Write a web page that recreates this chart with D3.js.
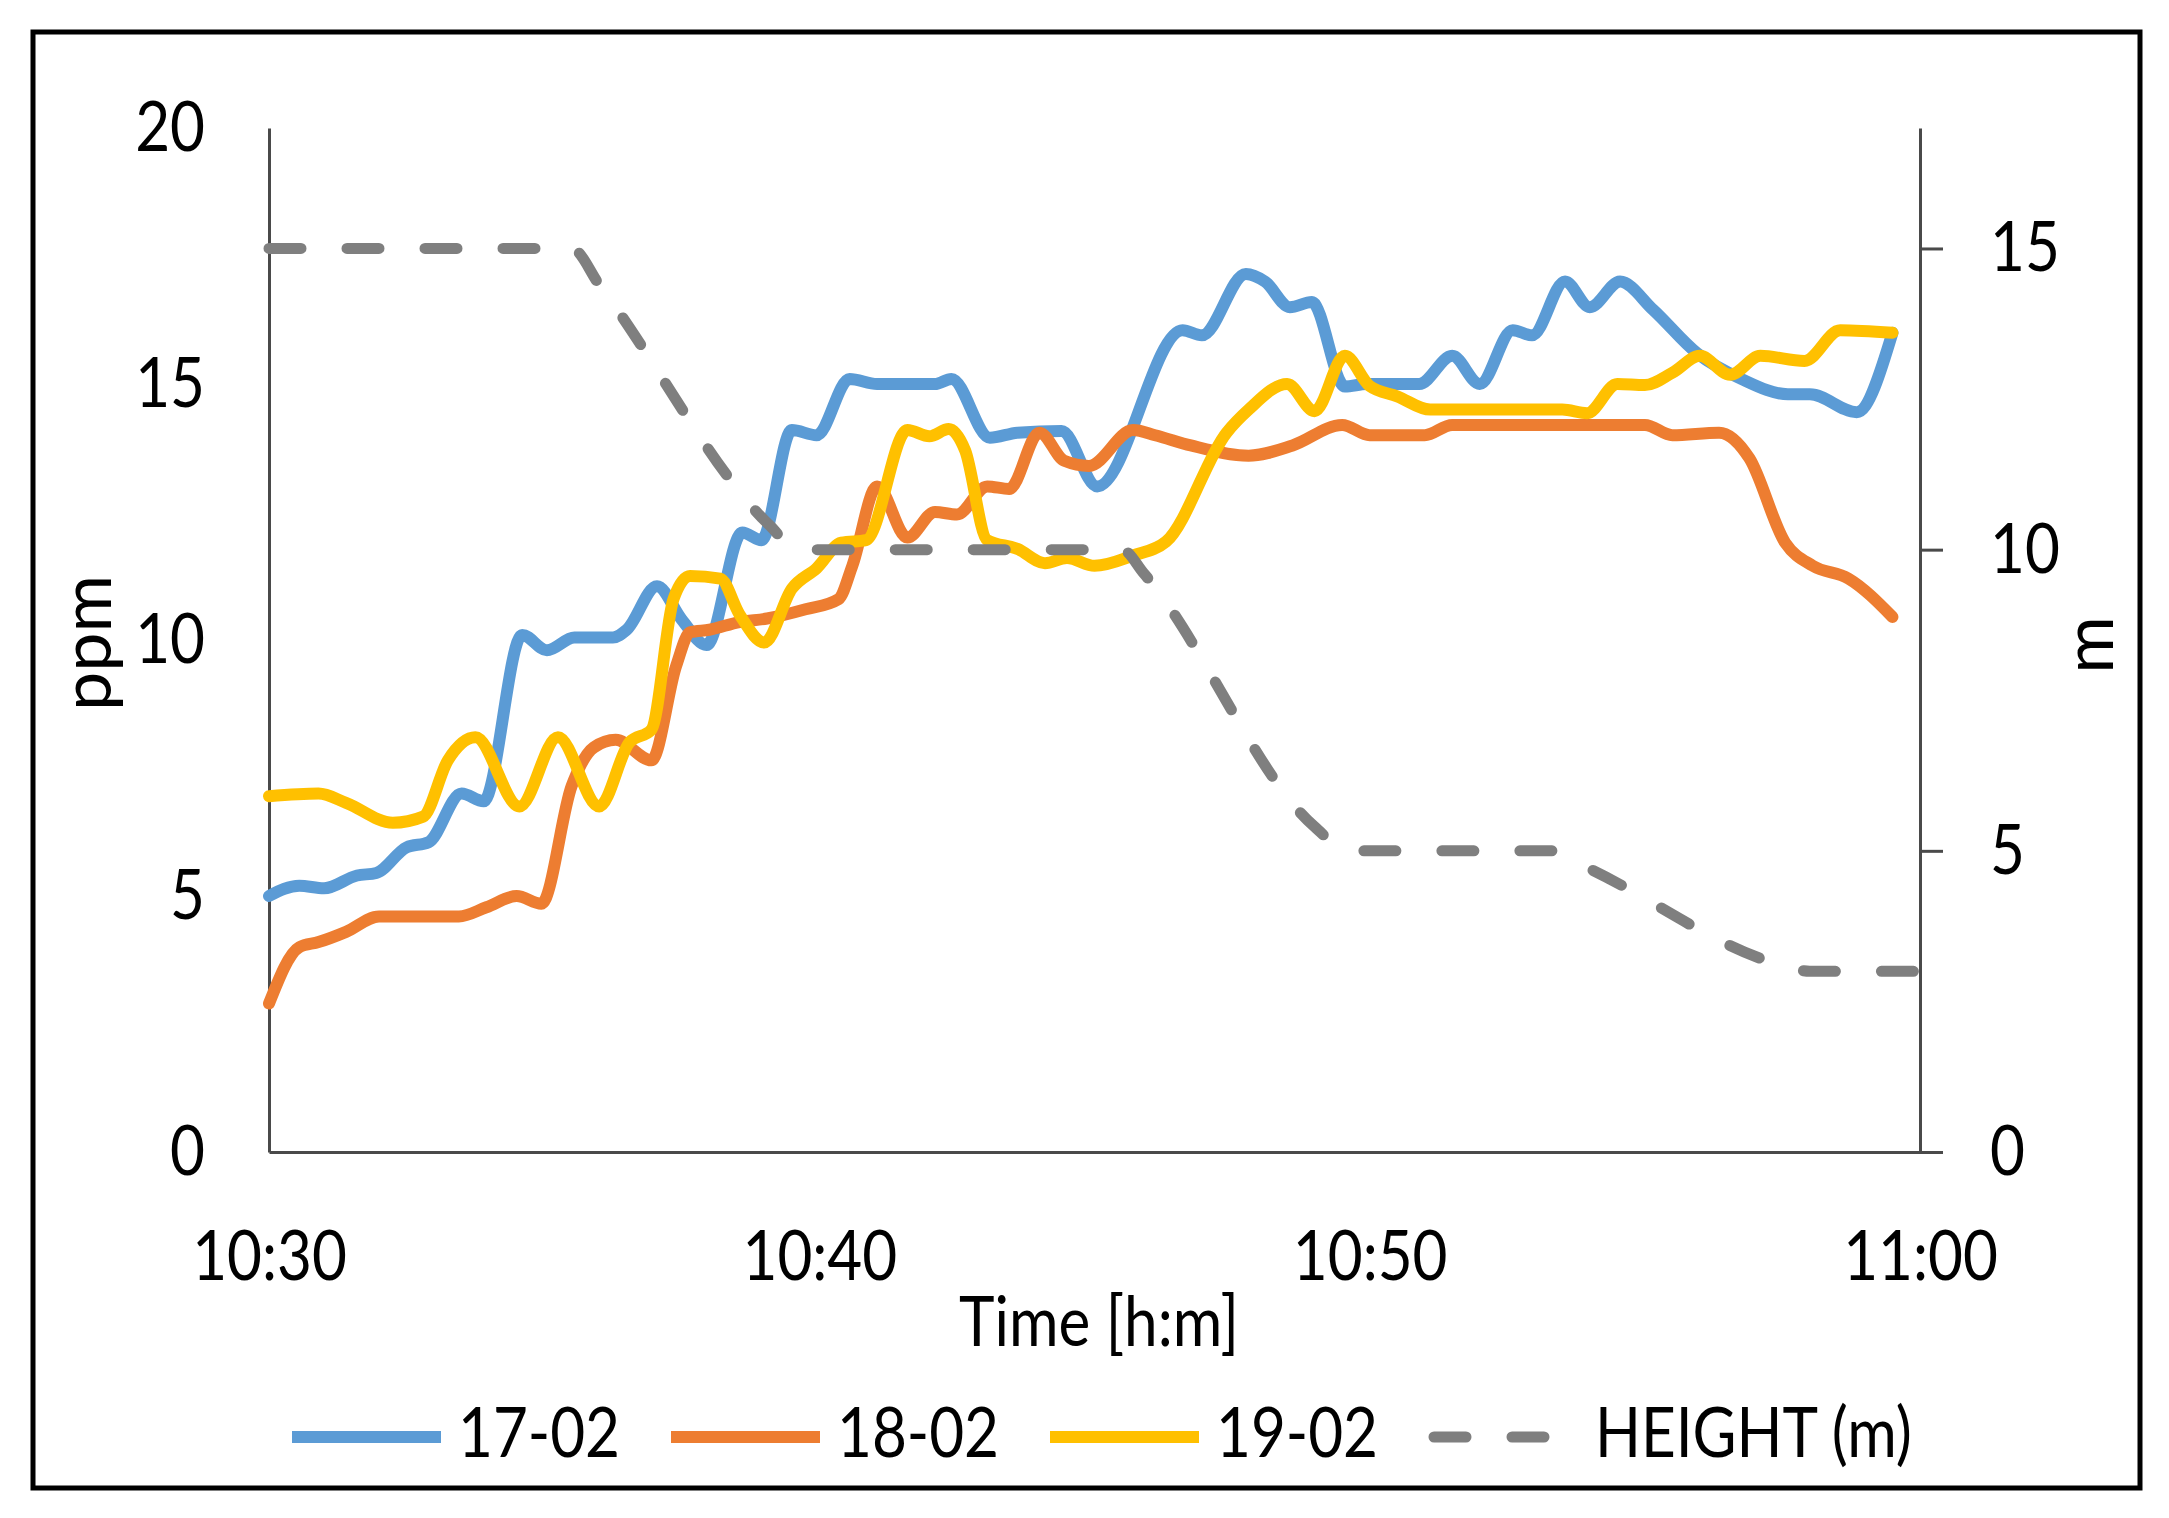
<!DOCTYPE html>
<html>
<head>
<meta charset="utf-8">
<script src="https://d3js.org/d3.v7.min.js"></script>
<style>
  body { margin: 0; background: #fff; }
  text { font-family: Lato, 'Open Sans', sans-serif; fill: #000; }
</style>
</head>
<body>
<div id="app"></div>
<script>
// Values: [minutes after 10:30, value]
const SERIES_17 = [[0,5.0],[0.55,5.2],[1.0,5.15],[1.6,5.4],[1.95,5.45],[2.5,5.95],[2.9,6.05],[3.5,7.0],[3.9,6.85],
  [4.6,10.1],[5.05,9.8],[5.55,10.05],[6.25,10.05],[6.5,10.2],[7.05,11.05],[7.5,10.4],[7.95,9.9],[8.6,12.1],
  [8.95,11.95],[9.5,14.1],[9.95,14.0],[10.55,15.1],[11.05,15.0],[12.1,15.0],[12.4,15.1],[13.1,13.95],[13.6,14.05],
  [14.4,14.08],[15.05,13.0],[16.6,16.05],[16.95,15.95],[17.75,17.15],[18.1,17.0],[18.55,16.5],[18.95,16.6],
  [19.55,14.95],[19.95,15.0],[20.9,15.0],[21.5,15.55],[22.0,15.0],[22.6,16.05],[22.95,15.95],[23.55,17.0],
  [24.0,16.5],[24.55,17.0],[25.15,16.45],[25.95,15.6],[26.75,15.1],[27.6,14.8],[28.0,14.8],[28.85,14.45],[29.5,16.0]];

const SERIES_18 = [[0,2.9],[0.55,4.0],[0.9,4.1],[1.4,4.3],[2.0,4.6],[3.45,4.6],[3.95,4.78],[4.5,5.0],[4.95,4.85],
  [5.5,7.15],[5.9,7.9],[6.3,8.05],[6.95,7.65],[7.4,9.5],[7.65,10.15],[8.0,10.2],[8.55,10.35],[9.05,10.42],
  [9.75,10.6],[10.35,10.8],[10.6,11.45],[11.05,13.0],[11.6,12.0],[12.1,12.5],[12.5,12.45],[13.05,13.0],
  [13.45,12.95],[14.0,14.05],[14.45,13.5],[14.9,13.4],[15.7,14.1],[16.1,14.0],[16.75,13.8],[17.8,13.6],
  [18.6,13.8],[19.5,14.2],[20.0,14.0],[21.0,14.0],[21.5,14.2],[25.0,14.2],[25.5,14.0],[26.35,14.05],
  [26.9,13.55],[27.55,11.9],[28.05,11.45],[28.7,11.2],[29.5,10.45]];

const SERIES_19 = [[0,6.95],[0.9,7.0],[1.4,6.82],[2.25,6.43],[2.8,6.55],[3.25,7.65],[3.75,8.1],[4.55,6.75],
  [5.25,8.1],[6.0,6.75],[6.55,8.0],[6.95,8.25],[7.35,10.8],[7.65,11.25],[8.2,11.2],[8.55,10.5],[9.0,9.95],
  [9.5,11.0],[9.95,11.4],[10.4,11.9],[10.85,11.95],[11.6,14.1],[12.0,13.98],[12.35,14.12],[12.65,13.7],
  [13.05,11.95],[13.6,11.78],[14.1,11.5],[14.5,11.6],[15.0,11.45],[15.7,11.65],[16.3,11.92],[17.4,14.05],
  [17.8,14.5],[18.5,15.0],[19.0,14.47],[19.55,15.55],[20.0,14.96],[20.5,14.76],[21.1,14.5],[23.5,14.5],
  [23.95,14.43],[24.5,15.0],[25.0,14.98],[25.5,15.22],[26.0,15.55],[26.55,15.18],[27.1,15.55],[27.9,15.45],
  [28.55,16.05],[29.5,16.0]];

const HEIGHT_M = [[0,15],[5.5,15],[6.0,14.4],[9.1,10.4],[9.6,10],[15.5,10],[15.9,9.6],[19.0,5.4],[19.6,5],
  [23.3,5],[24.0,4.7],[27.5,3.1],[28.0,3],[30,3]];

const SERIES_NAMES = ['17-02', '18-02', '19-02', 'HEIGHT (m)'];
const LEFT_TICKS = [0, 5, 10, 15, 20];
const RIGHT_TICKS = [0, 5, 10, 15];
const TIME_TICKS = [0, 10, 20, 30];   // minutes after 10:30

const COLORS = ['#5B9BD5', '#ED7D31', '#FFC000', '#7F7F7F'];
const BASE = new Date(2020, 1, 17, 10, 30);
const toDate = (m) => new Date(BASE.getTime() + m * 60000);

const W = 2169, H = 1518;
const plot = {left: 269, right: 1920, top: 128, bottom: 1152};
const FONT = 70;
const AXIS_COLOR = '#4a4a4a';

const svg = d3.select('#app').append('svg')
  .attr('width', W)
  .attr('height', H);

// white background with the black frame round it
svg.append('rect').attr('width', W).attr('height', H).style('fill', '#fff');
svg.append('rect')
  .attr('x', 33).attr('y', 32)
  .attr('width', 2107).attr('height', 1456)
  .style('fill', 'none')
  .style('stroke', '#000')
  .style('stroke-width', 5);

// scales
const x = d3.scaleTime().domain([toDate(0), toDate(30)]).range([plot.left, plot.right]);
const yLeft = d3.scaleLinear().domain([0, 20]).range([plot.bottom, plot.top]);
const yRight = d3.scaleLinear().domain([0, 17]).range([plot.bottom, plot.top]);

function styleAxis(g) {
  g.select('.domain').style('stroke', AXIS_COLOR).style('stroke-width', 3);
  g.selectAll('.tick line').style('stroke', AXIS_COLOR).style('stroke-width', 3);
  g.selectAll('text')
    .style('font-family', 'Lato, sans-serif')
    .style('font-size', FONT + 'px')
    .style('fill', '#000');
}

// left axis (ppm)
const leftAxis = svg.append('g')
  .attr('transform', `translate(${plot.left},0)`)
  .call(d3.axisLeft(yLeft).tickValues(LEFT_TICKS).tickSize(0).tickPadding(64))
  .call(styleAxis);
leftAxis.attr('font-family', null).attr('font-size', null);

// right axis (m)
const rightAxis = svg.append('g')
  .attr('transform', `translate(${plot.right},0)`)
  .call(d3.axisRight(yRight).tickValues(RIGHT_TICKS).tickSizeInner(23).tickSizeOuter(0).tickPadding(47))
  .call(styleAxis);
rightAxis.attr('font-family', null).attr('font-size', null);

// bottom axis (time)
const bottomAxis = svg.append('g')
  .attr('transform', `translate(0,${plot.bottom})`)
  .call(d3.axisBottom(x).tickValues(TIME_TICKS.map(toDate)).tickSize(0).tickFormat(d3.timeFormat('%H:%M')))
  .call(styleAxis);
bottomAxis.attr('font-family', null).attr('font-size', null);
bottomAxis.selectAll('text').attr('dy', null).attr('y', 128);

// axis titles
svg.append('text')
  .attr('transform', `translate(111,643) rotate(-90)`)
  .attr('text-anchor', 'middle')
  .style('font-size', FONT + 'px')
  .attr('class', 'keep')
  .text('ppm');

svg.append('text')
  .attr('transform', `translate(2113,645) rotate(-90)`)
  .attr('text-anchor', 'middle')
  .style('font-size', FONT + 'px')
  .attr('class', 'keep')
  .text('m');

svg.append('text')
  .attr('x', 1099).attr('y', 1346)
  .attr('text-anchor', 'middle')
  .style('font-size', FONT + 'px')
  .text('Time [h:m]');

// lines: blue, orange, yellow on the ppm axis, then height dashed on the m axis
const ppmLine = d3.line()
  .x(d => x(toDate(d[0])))
  .y(d => yLeft(d[1]))
  .curve(d3.curveMonotoneX);

const heightLine = d3.line()
  .x(d => x(toDate(d[0])))
  .y(d => yRight(d[1]))
  .curve(d3.curveMonotoneX);

const lines = svg.append('g').attr('id', 'lines');
[SERIES_17, SERIES_18, SERIES_19].forEach((s, i) => {
  lines.append('path')
    .datum(s)
    .attr('d', ppmLine)
    .style('fill', 'none')
    .style('stroke', COLORS[i])
    .style('stroke-width', 12)
    .style('stroke-linejoin', 'round')
    .style('stroke-linecap', 'round');
});

lines.append('path')
  .datum(HEIGHT_M)
  .attr('d', heightLine)
  .style('fill', 'none')
  .style('stroke', COLORS[3])
  .style('stroke-width', 11)
  .style('stroke-dasharray', '32,46')
  .style('stroke-linecap', 'round');

// legend
const legendItems = [
  {line: [292, 441], text: 458},
  {line: [671, 820], text: 837},
  {line: [1050, 1199], text: 1216},
  {line: [1434, 1544], text: 1595}
];
const legend = svg.append('g').attr('id', 'legend');
legendItems.forEach((it, i) => {
  const ln = legend.append('line')
    .attr('x1', it.line[0]).attr('x2', it.line[1])
    .attr('y1', 1437).attr('y2', 1437)
    .style('stroke', COLORS[i])
    .style('stroke-width', 12);
  if (i === 3) {
    ln.style('stroke-width', 11).style('stroke-dasharray', '32,46').style('stroke-linecap', 'round');
  }
  legend.append('text')
    .attr('x', it.text).attr('y', 1457)
    .style('font-size', FONT + 'px')
    .text(SERIES_NAMES[i]);
});

// squeeze the horizontal texts a bit so they match the narrow font of the picture
function squeeze() {
  svg.selectAll('text:not(.keep)').each(function() {
    const w = this.getComputedTextLength();
    d3.select(this).attr('textLength', w * 0.86).attr('lengthAdjust', 'spacingAndGlyphs');
  });
}
if (document.fonts && document.fonts.ready) {
  document.fonts.ready.then(squeeze);
} else {
  squeeze();
}
</script>
</body>
</html>
